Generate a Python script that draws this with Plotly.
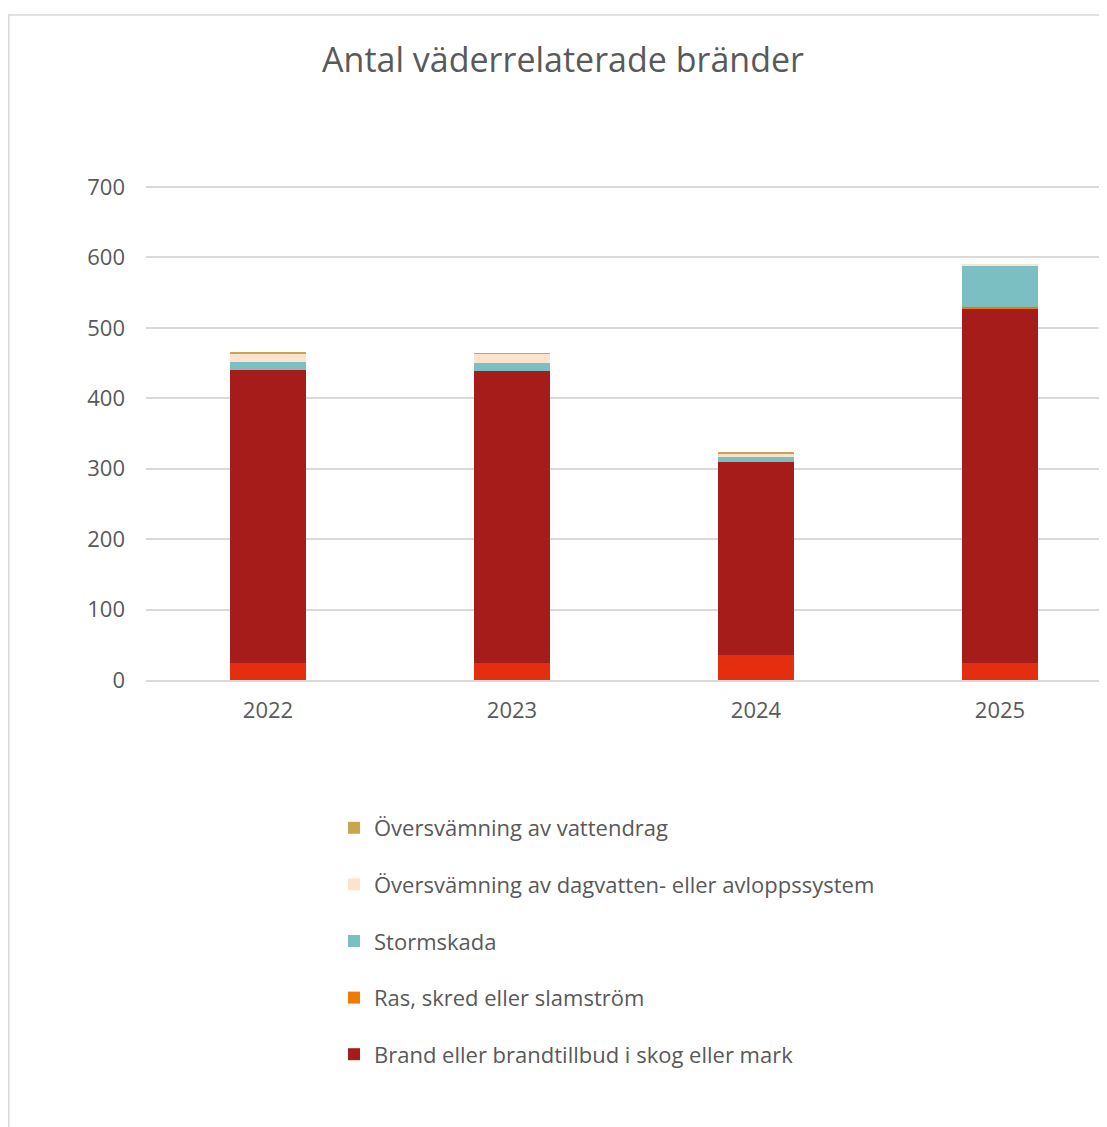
import plotly.graph_objects as go

years = ["2022", "2023", "2024", "2025"]

ovrigt = [24, 24, 35, 24]
brand = [416, 415, 274, 504]
ras = [0, 0, 0, 2]
storm = [11, 11, 8, 58]
dagvatten = [13, 13, 4, 2]
vattendrag = [1, 1, 2, 0]

# page body has an 8px margin -> figure drawn at (8, 8)
OFF = 8
W, H = 1107 - OFF, 1127 - OFF
L, R = 146 - OFF, 0
plot_bottom = 680 - OFF
unit = 493 / 700
ytop = 703
T = round(plot_bottom - ytop * unit)
B = H - plot_bottom
pw = W - L - R
ph = plot_bottom - T

fig = go.Figure()
series = [
    ("Övrigt", ovrigt, "#E52E10", False),
    ("Brand eller brandtillbud i skog eller mark", brand, "#A61C1B", True),
    ("Ras, skred eller slamström", ras, "#EE7B04", True),
    ("Stormskada", storm, "#7CBFC3", True),
    ("Översvämning av dagvatten- eller avloppssystem", dagvatten, "#FCE3CD", True),
    ("Översvämning av vattendrag", vattendrag, "#C8A54F", True),
]
n = len(series)
for i, (name, vals, col, sl) in enumerate(series):
    fig.add_trace(go.Bar(
        x=years, y=vals, name=name, marker=dict(color=col, line=dict(width=0)),
        width=0.31, showlegend=sl, legendgroup=f"g{i}", legendrank=1000 + (n - i),
    ))

def px(x):
    return (x - OFF - L) / pw

def py(y):
    return (plot_bottom - (y - OFF)) / ph

fig.update_layout(
    width=W, height=H,
    margin=dict(l=L, r=R, t=T, b=B),
    barmode="stack",
    paper_bgcolor="white", plot_bgcolor="white",
    font=dict(family="Open Sans", color="#595959", size=22),
    title=dict(text="Antal väderrelaterade bränder", x=(563 - OFF) / W, xref="container",
               xanchor="center", y=1 - (60 - OFF) / H, yref="container", yanchor="middle",
               font=dict(size=34, color="#595959")),
    xaxis=dict(type="category", range=[-0.5, -0.5 + pw / 244], showgrid=False,
               zeroline=False, showline=True, linecolor="#D9D9D9", linewidth=1.5,
               ticks="", ticklabelstandoff=10, tickfont=dict(size=22, color="#595959")),
    yaxis=dict(range=[0, ph / unit], tickvals=[0, 100, 200, 300, 400, 500, 600, 700],
               gridcolor="#D9D9D9", gridwidth=1.5,
               zeroline=False, showline=False, ticks="", ticklabelstandoff=20,
               tickfont=dict(size=22, color="#595959")),
    legend=dict(x=px(334), xanchor="left", y=py(807), yanchor="top",
                traceorder="grouped", tracegroupgap=25,
                font=dict(size=22, color="#595959"), itemwidth=30),
    showlegend=True,
    shapes=[
        dict(type="line", xref="paper", yref="paper", x0=px(8.8), x1=px(8.8), y0=py(15), y1=py(1127),
             line=dict(color="#D9D9D9", width=1.5)),
        dict(type="line", xref="paper", yref="paper", x0=px(8), x1=px(1107), y0=py(15), y1=py(15),
             line=dict(color="#D9D9D9", width=1.5)),
    ],
)

fig.write_html("out.html")
